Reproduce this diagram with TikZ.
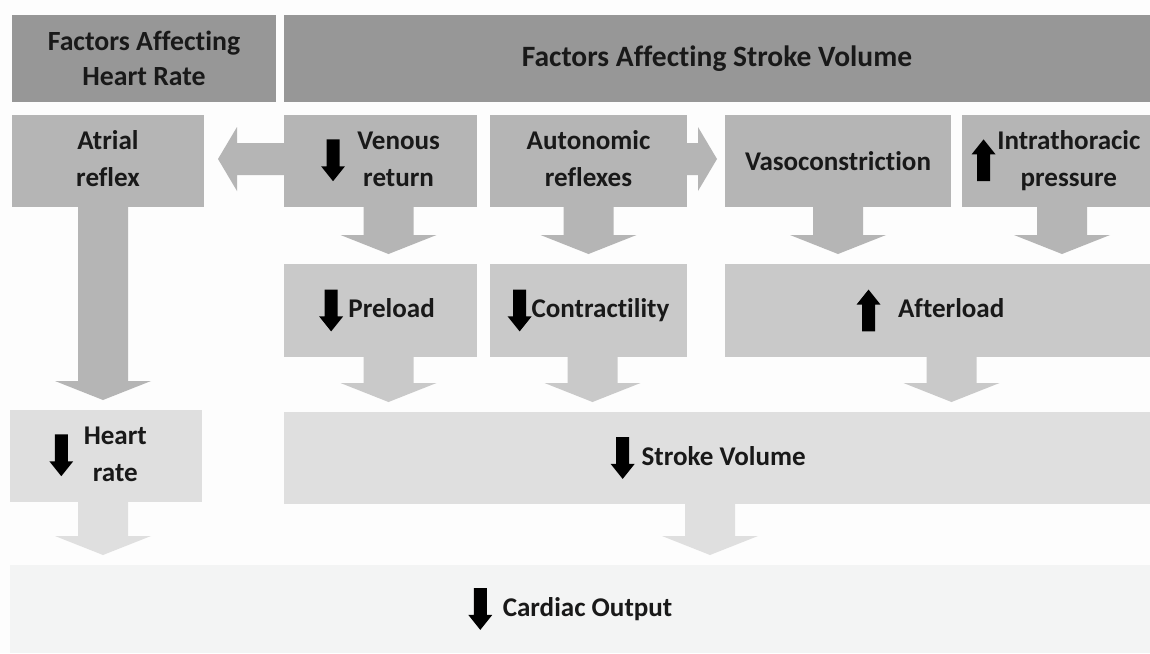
\documentclass[tikz,border=0pt]{standalone}
\usepackage{fontspec}
\setmainfont{Carlito}[Ligatures={NoCommon}]
\usetikzlibrary{calc}

\definecolor{bghead}{HTML}{979797}
\definecolor{bgfactor}{HTML}{B5B5B5}
\definecolor{bgmid}{HTML}{C9C9C9}
\definecolor{bgvol}{HTML}{DFDFDF}
\definecolor{bgout}{HTML}{F3F4F4}
\definecolor{bgpage}{HTML}{FDFDFD}

% small black arrows inside the labels
\newcommand{\arrdown}{\tikz[x=1pt,y=1pt,baseline={([yshift=-4pt]current bounding box.center)}]
  \fill[black] (-3.7,0) -- (3.7,0) -- (3.7,-15.3) -- (6.8,-15.3) -- (0,-23.8) -- (-6.8,-15.3) -- (-3.7,-15.3) -- cycle;}
\newcommand{\arrup}{\tikz[x=1pt,y=1pt,baseline={([yshift=-4pt]current bounding box.center)}]
  \fill[black] (-3.7,0) -- (3.7,0) -- (3.7,15.3) -- (6.8,15.3) -- (0,23.8) -- (-6.8,15.3) -- (-3.7,15.3) -- cycle;}

% block arrows between boxes: colour, start, target
\newcommand{\flowdown}[3]{%
  \path (#2) coordinate (fs) (#3) coordinate (ft);
  \fill[#1] ($(fs)+(-25,0)$) -- ($(fs)+(25,0)$) -- ($(fs |- ft)+(25,-29)$) -- ($(fs |- ft)+(48,-29)$)
    -- ($(fs |- ft)+(0,-10)$) -- ($(fs |- ft)+(-48,-29)$) -- ($(fs |- ft)+(-25,-29)$) -- cycle;}
\newcommand{\flowleft}[3]{%
  \path (#2) coordinate (fs) (#3) coordinate (ft);
  \fill[#1] ($(fs)+(0,-16)$) -- ($(ft |- fs)+(33,-16)$) -- ($(ft |- fs)+(33,-32)$) -- ($(ft |- fs)+(14,0)$)
    -- ($(ft |- fs)+(33,32)$) -- ($(ft |- fs)+(33,16)$) -- ($(fs)+(0,16)$) -- cycle;}
\newcommand{\flowright}[3]{%
  \path (#2) coordinate (fs) (#3) coordinate (ft);
  \fill[#1] ($(fs)+(0,-16)$) -- ($(ft |- fs)+(-27,-16)$) -- ($(ft |- fs)+(-27,-32)$) -- ($(ft |- fs)+(-8,0)$)
    -- ($(ft |- fs)+(-27,32)$) -- ($(ft |- fs)+(-27,16)$) -- ($(fs)+(0,16)$) -- cycle;}

\newcommand{\twolines}[2]{\begin{tabular}{@{}c@{}}#1\\#2\end{tabular}}

\begin{document}
\begin{tikzpicture}[x=0.02cm, y=-0.02cm,
  box/.style={inner sep=0pt, outer sep=0pt, align=center, text=black!90, anchor=north west,
    font=\fontsize{15.4}{21}\selectfont\bfseries},
  cell/.style 2 args={minimum width=#1*0.02cm, minimum height=#2*0.02cm}]

\fill[bgpage] (0,0) rectangle (1150,653);
\useasboundingbox (0,0) rectangle (1150,653);

% headers
\node (lhead)[box, fill=bghead, cell={264}{87}, font=\fontsize{15.8}{20}\selectfont\bfseries] at (12,15) {Factors Affecting\\Heart Rate};
\node (rhead)[box, fill=bghead, cell={866}{87}, font=\fontsize{16.8}{20}\selectfont\bfseries] at (284,15) {Factors Affecting Stroke Volume};

% factors
\node (atr)[box, fill=bgfactor, cell={192}{92}] at (12,115) {\twolines{Atrial}{reflex}};
\node (ven)[box, fill=bgfactor, cell={193}{92}] at (284,115) {\arrdown\hspace{7pt}\twolines{Venous}{return}};
\node (aut)[box, fill=bgfactor, cell={197}{92}] at (490,115) {\twolines{Autonomic}{reflexes}};
\node (vas)[box, fill=bgfactor, cell={226}{92}] at (725,115) {Vasoconstriction};
\node (itp)[box, fill=bgfactor, cell={188}{92}] at (962,115) {\arrup\hspace{1pt}\twolines{Intrathoracic}{pressure}};

% loads
\node (pre)[box, fill=bgmid, cell={193}{93}] at (284,264) {\mbox{\arrdown\hspace{3pt}Preload\hspace{4pt}}};
\node (con)[box, fill=bgmid, cell={197}{93}] at (490,264) {\arrdown Contractility};
\node (aft)[box, fill=bgmid, cell={425}{93}] at (725,264) {\mbox{\arrup\hspace{10pt}Afterload\hspace{8pt}}};

% results
\node (hr)[box, fill=bgvol, cell={192}{92}] at (10,410) {\mbox{\arrdown\hspace{6pt}\twolines{Heart}{rate}\hspace{9pt}}};
\node (sv)[box, fill=bgvol, cell={866}{92}] at (284,412) {\mbox{\arrdown\hspace{4pt}Stroke Volume\hspace{10pt}}};
\node (co)[box, fill=bgout, cell={1140}{88}] at (10,565) {\mbox{\arrdown\hspace{6pt}Cardiac Output\hspace{11pt}}};

% block arrows
\flowleft{bgfactor}{$(ven.west)+(0,-2)$}{atr.east}
\flowright{bgfactor}{$(aut.east)+(0,-2)$}{vas.west}
\flowdown{bgfactor}{$(atr.south)+(-5,0)$}{hr.north}
\flowdown{bgfactor}{$(ven.south)+(8,0)$}{pre.north}
\flowdown{bgfactor}{aut.south}{con.north}
\flowdown{bgfactor}{vas.south}{aft.north}
\flowdown{bgfactor}{$(itp.south)+(6,0)$}{aft.north}
\flowdown{bgmid}{$(pre.south)+(8,0)$}{sv.north}
\flowdown{bgmid}{$(con.south)+(4,0)$}{sv.north}
\flowdown{bgmid}{$(aft.south)+(14,0)$}{sv.north}
\flowdown{bgvol}{$(hr.south)+(-3,0)$}{co.north}
\flowdown{bgvol}{$(sv.south)+(-7,0)$}{co.north}
\end{tikzpicture}
\end{document}
